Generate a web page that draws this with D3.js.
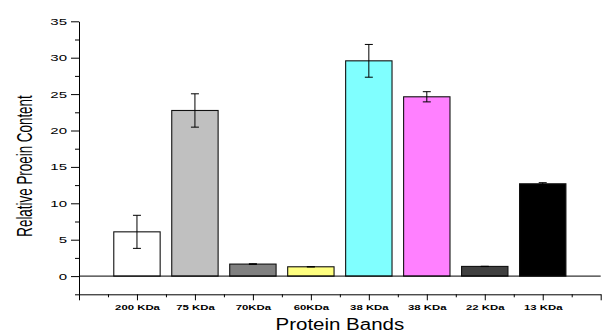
<!DOCTYPE html>
<html lang="en">
<head>
    <meta charset="UTF-8">
    <title>Protein Bands</title>
    <style>
        body { margin: 0; background: #fff; }
        text { font-family: "Liberation Sans", Arial, sans-serif; }
    </style>
</head>
<body>
    <svg id="chart" width="606" height="332"></svg>
    <script src="https://cdn.jsdelivr.net/npm/d3@7/dist/d3.min.js"></script>
    <script>
        // data
        var bands = ["200 KDa", "75 KDa", "70KDa", "60KDa", "38 KDa", "38 KDa", "22 KDa", "13 KDa"];
        var content = [6.08, 22.75, 1.65, 1.28, 29.57, 24.63, 1.33, 12.68];
        var errors = [2.27, 2.29, 0.05, 0.03, 2.25, 0.7, 0.02, 0.15];
        var yTicks = [0, 5, 10, 15, 20, 25, 30, 35];

        var barColors = ["#ffffff", "#c0c0c0", "#808080", "#ffff80", "#80ffff", "#ff80ff", "#404040", "#000000"];

        // the picture is stretched sideways, so text gets stretched too
        function stretch(sel, k) {
            sel.each(function () {
                var w = this.getComputedTextLength();
                d3.select(this)
                    .attr("textLength", w * k)
                    .attr("lengthAdjust", "spacingAndGlyphs");
            });
        }

        var svg = d3.select("#chart");

        var x = d3.scaleLinear().domain([0, bands.length + 1]).range([79, 600.7]);
        var y = d3.scaleLinear().domain([-2.5, 35]).range([294.3, 21.3]);
        var barW = (x(1) - x(0)) * 0.8;

        // bars
        svg.append("g")
            .selectAll("rect")
            .data(content)
            .join("rect")
            .attr("x", (d, i) => x(i + 1) - barW / 2)
            .attr("y", d => y(d))
            .attr("width", barW)
            .attr("height", d => y(0) - y(d))
            .attr("fill", (d, i) => barColors[i])
            .attr("stroke", "#111")
            .attr("stroke-width", 1.1);

        // error bars
        var eb = svg.append("g")
            .attr("stroke", "#000")
            .attr("stroke-width", 1)
            .selectAll("g")
            .data(content)
            .join("g");
        eb.append("line")
            .attr("x1", (d, i) => x(i + 1)).attr("x2", (d, i) => x(i + 1))
            .attr("y1", (d, i) => y(d - errors[i])).attr("y2", (d, i) => y(d + errors[i]));
        eb.append("line")
            .attr("x1", (d, i) => x(i + 1) - 4).attr("x2", (d, i) => x(i + 1) + 4)
            .attr("y1", (d, i) => y(d + errors[i])).attr("y2", (d, i) => y(d + errors[i]));
        eb.append("line")
            .attr("x1", (d, i) => x(i + 1) - 4).attr("x2", (d, i) => x(i + 1) + 4)
            .attr("y1", (d, i) => y(d - errors[i])).attr("y2", (d, i) => y(d - errors[i]));

        // zero line
        svg.append("line")
            .attr("x1", x(0)).attr("x2", x(bands.length + 1))
            .attr("y1", y(0)).attr("y2", y(0))
            .attr("stroke", "#000");

        // y axis
        svg.append("g")
            .attr("transform", `translate(${x(0)},0)`)
            .call(d3.axisLeft(y).tickValues(d3.range(-2.5, 35.1, 2.5).filter(v => v % 5 !== 0))
                .tickSize(4).tickSizeOuter(0).tickFormat(""))
            .call(g => g.selectAll("path, line").attr("stroke", "#000"));

        svg.append("g")
            .attr("transform", `translate(${x(0)},0)`)
            .call(d3.axisLeft(y).tickValues(yTicks).tickSize(8).tickSizeOuter(0).tickPadding(4))
            .call(g => g.select(".domain").remove())
            .call(g => g.selectAll("line").attr("stroke", "#000"))
            .call(g => g.selectAll("text")
                .attr("font-size", 9.5)
                .attr("fill", "#000")
                .call(stretch, 1.58));

        // x axis
        svg.append("g")
            .attr("transform", `translate(0,${y(-2.5)})`)
            .call(d3.axisBottom(x).tickValues(d3.range(0.5, bands.length + 1, 1))
                .tickSize(3).tickSizeOuter(0).tickFormat(""))
            .call(g => g.selectAll("path, line").attr("stroke", "#000"));

        svg.append("g")
            .attr("transform", `translate(0,${y(-2.5)})`)
            .call(d3.axisBottom(x).tickValues(d3.range(0, bands.length + 2))
                .tickSize(6).tickSizeOuter(0)
                .tickFormat(i => bands[i - 1] || ""))
            .call(g => g.select(".domain").remove())
            .call(g => g.selectAll("line").attr("stroke", "#000"))
            .call(g => g.selectAll("text")
                .attr("y", 15.3)
                .attr("dy", null)
                .attr("font-size", 8)
                .attr("font-weight", "bold")
                .attr("fill", "#000")
                .call(stretch, 1.42));

        // axis titles
        svg.append("text")
            .attr("x", (x(0) + x(bands.length + 1)) / 2)
            .attr("y", 330)
            .attr("text-anchor", "middle")
            .attr("font-size", 16)
            .text("Protein Bands")
            .call(stretch, 1.28);

        svg.append("text")
            .attr("transform", "translate(31.5,166) scale(1.67,1) rotate(-90)")
            .attr("text-anchor", "middle")
            .attr("font-size", 13.4)
            .text("Relative Proein Content");
    </script>
</body>
</html>
